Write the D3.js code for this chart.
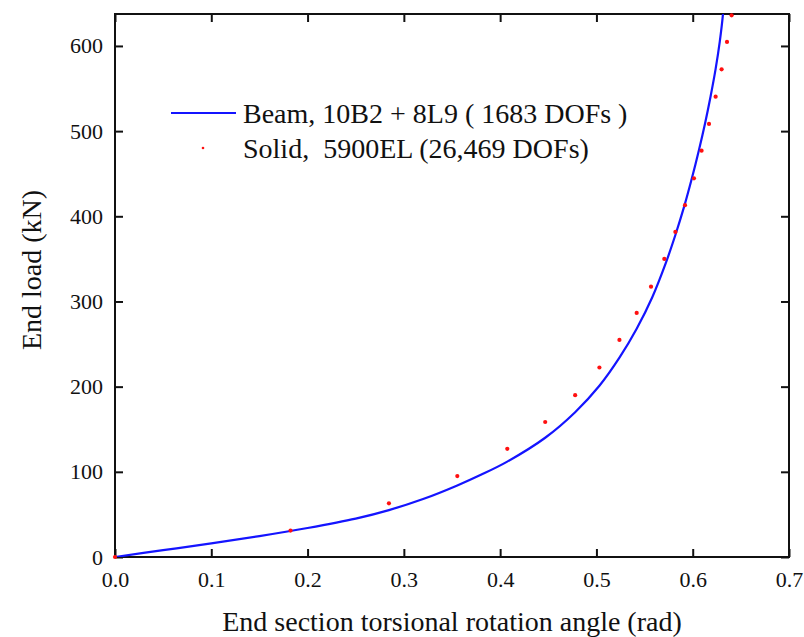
<!DOCTYPE html>
<html>
<head>
<meta charset="utf-8">
<script src="https://cdn.jsdelivr.net/npm/d3@7/dist/d3.min.js"></script>
<style>
  html, body { margin: 0; padding: 0; background: #fff; }
  svg { display: block; }
  text { font-family: "Liberation Serif", "Times New Roman", serif; fill: #111; }
</style>
</head>
<body>
<svg id="chart" width="804" height="637"></svg>
<script>
// Beam solution (10B2 + 8L9, 1683 DOFs): rotation (rad) vs end load (kN)
const beamAngle = [0, 0.05, 0.1, 0.15, 0.2, 0.25, 0.2845, 0.32, 0.3555, 0.38, 0.4074, 0.4468, 0.4779, 0.5031, 0.5239, 0.5418, 0.558, 0.572, 0.582, 0.591, 0.599, 0.6063, 0.6128, 0.6186, 0.6238, 0.6281, 0.6314, 0.6335];
const beamLoad  = [0, 8, 16, 24.5, 34, 45, 55, 68, 84, 96.5, 112, 140, 170, 201, 234, 268, 305, 345, 378, 411, 444, 477, 509, 541, 573, 605, 637, 670];

// Solid solution (5900EL, 26,469 DOFs)
const solidAngle = [0, 0.1823, 0.2845, 0.3555, 0.4074, 0.4468, 0.4779, 0.5031, 0.5239, 0.5418, 0.5567, 0.5705, 0.5820, 0.5920, 0.6013, 0.6092, 0.6169, 0.6238, 0.6300, 0.6356, 0.6404];
const solidLoad  = [0, 31, 63, 95, 127, 158.5, 190, 222.5, 254.8, 286.5, 317.4, 349.9, 381.6, 413, 444.6, 477, 508.4, 540.4, 572.6, 604.7, 636];

const xTicks = [0, 0.1, 0.2, 0.3, 0.4, 0.5, 0.6, 0.7];
const yTicks = [0, 100, 200, 300, 400, 500, 600];
const legendLabels = ["Beam, 10B2 + 8L9 ( 1683 DOFs )", "Solid,  5900EL (26,469 DOFs)"];
const xTitle = "End section torsional rotation angle (rad)";
const yTitle = "End load (kN)";

(function () {
  const svg = d3.select("#chart");
  const L = 115, R = 789, T = 14, B = 557;

  const x = d3.scaleLinear().domain([0, 0.7]).range([L, R]);
  const y = d3.scaleLinear().domain([0, 637.5]).range([B, T]);

  svg.append("clipPath").attr("id", "clip")
    .append("rect").attr("x", L).attr("y", T).attr("width", R - L).attr("height", B - T);

  const tickLen = 8;
  const axStroke = 2;

  const gBottom = svg.append("g").attr("transform", `translate(0,${B})`)
    .call(d3.axisBottom(x).tickValues(xTicks).tickSizeInner(-tickLen).tickSizeOuter(0).tickPadding(14).tickFormat(d3.format(".1f")));
  const gTop = svg.append("g").attr("transform", `translate(0,${T})`)
    .call(d3.axisTop(x).tickValues(xTicks).tickSizeInner(-tickLen).tickSizeOuter(0).tickFormat(""));
  const gLeft = svg.append("g").attr("transform", `translate(${L},0)`)
    .call(d3.axisLeft(y).tickValues(yTicks).tickSizeInner(-tickLen).tickSizeOuter(0).tickPadding(12).tickFormat(d3.format("d")));
  const gRight = svg.append("g").attr("transform", `translate(${R},0)`)
    .call(d3.axisRight(y).tickValues(yTicks).tickSizeInner(-tickLen).tickSizeOuter(0).tickFormat(""));

  [gBottom, gTop, gLeft, gRight].forEach(g => {
    g.attr("font-family", null);
    g.select(".domain").remove();
    g.selectAll(".tick line").attr("stroke", "#111").attr("stroke-width", axStroke);
    g.selectAll("text").attr("font-size", 22).attr("fill", "#111");
  });

  svg.append("rect").attr("x", L).attr("y", T).attr("width", R - L).attr("height", B - T)
    .attr("fill", "none").attr("stroke", "#111").attr("stroke-width", axStroke);

  const beamData = beamAngle.map((a, i) => [a, beamLoad[i]]);
  const line = d3.line().x(d => x(d[0])).y(d => y(d[1])).curve(d3.curveCatmullRom.alpha(0.5));
  svg.append("path").datum(beamData).attr("clip-path", "url(#clip)")
    .attr("d", line).attr("fill", "none").attr("stroke", "#1414ff").attr("stroke-width", 2.2);

  const solidData = solidAngle.map((a, i) => [a, solidLoad[i]]);
  svg.append("g").selectAll("circle").data(solidData).join("circle")
    .attr("cx", d => x(d[0])).attr("cy", d => y(d[1])).attr("r", 2.1).attr("fill", "#ff1010");

  const lg = svg.append("g");
  lg.append("line").attr("x1", 171).attr("x2", 236).attr("y1", 113).attr("y2", 113)
    .attr("stroke", "#1414ff").attr("stroke-width", 2.2);
  lg.append("circle").attr("cx", 203).attr("cy", 148).attr("r", 1.3).attr("fill", "#ff1010");
  lg.selectAll("text").data(legendLabels).join("text")
    .attr("x", 243).attr("y", (d, i) => 123 + i * 35)
    .attr("font-size", 28).attr("xml:space", "preserve").style("white-space", "pre")
    .text(d => d);

  svg.append("text").attr("x", (L + R) / 2).attr("y", 631).attr("text-anchor", "middle")
    .attr("font-size", 28).text(xTitle);
  svg.append("text").attr("transform", `translate(41,270) rotate(-90)`).attr("text-anchor", "middle")
    .attr("font-size", 28).text(yTitle);
})();
</script>
</body>
</html>
